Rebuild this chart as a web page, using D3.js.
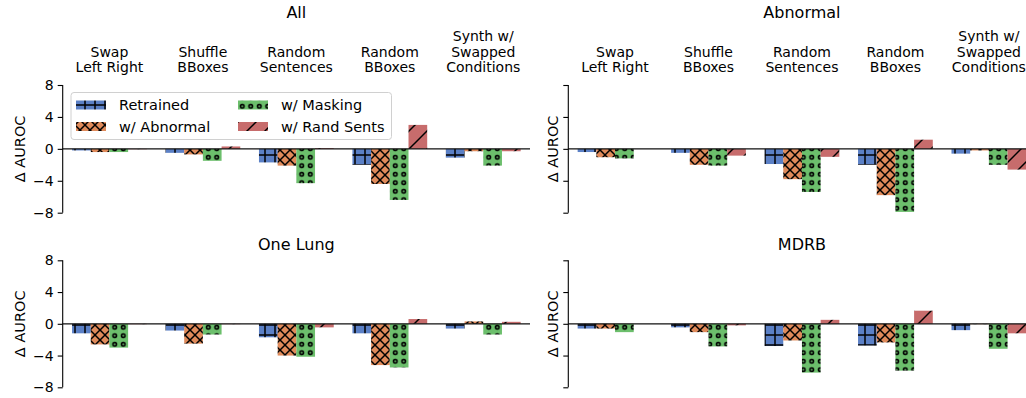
<!DOCTYPE html>
<html>
<head>
<meta charset="utf-8">
<script src="https://cdn.jsdelivr.net/npm/d3@7"></script>
<style>
  body { margin: 0; background: #fff; }
  text { font-family: "DejaVu Sans", sans-serif; fill: #000; }
</style>
</head>
<body>
<div id="chart"></div>
<script>
// ---- data ----
const categories = ["Swap\nLeft Right", "Shuffle\nBBoxes", "Random\nSentences", "Random\nBBoxes", "Synth w/\nSwapped\nConditions"];
const seriesNames = ["Retrained", "w/ Abnormal", "w/ Masking", "w/ Rand Sents"];
const panelTitles = ["All", "Abnormal", "One Lung", "MDRB"];
const yTicks = [-8, -4, 0, 4, 8];

// values per panel, one array per series (in categories order)
const allRetrained  = [-0.2, -0.5, -1.7, -2.0, -1.1];
const allAbnormal   = [-0.4, -0.7, -2.1, -4.4, -0.3];
const allMasking    = [-0.4, -1.5, -4.3, -6.4, -2.1];
const allRandSents  = [-0.05, 0.3, 0.1, 3.0, -0.3];

const abnRetrained  = [-0.4, -0.5, -1.9, -2.0, -0.6];
const abnAbnormal   = [-1.05, -2.0, -3.8, -5.8, -0.2];
const abnMasking    = [-1.2, -2.1, -5.4, -7.9, -2.0];
const abnRandSents  = [0.0, -0.85, -1.0, 1.15, -2.6];

const lungRetrained = [-1.2, -0.85, -1.7, -1.2, -0.6];
const lungAbnormal  = [-2.6, -2.5, -4.0, -5.2, 0.3];
const lungMasking   = [-3.0, -1.35, -4.15, -5.5, -1.35];
const lungRandSents = [-0.05, -0.05, -0.45, 0.6, 0.25];

const mdrbRetrained = [-0.6, -0.45, -2.8, -2.75, -0.8];
const mdrbAbnormal  = [-0.6, -1.05, -2.1, -2.35, -0.05];
const mdrbMasking   = [-1.05, -2.85, -6.15, -5.9, -3.15];
const mdrbRandSents = [0.0, -0.2, 0.5, 1.65, -1.2];

const panelValues = [
  [allRetrained, allAbnormal, allMasking, allRandSents],
  [abnRetrained, abnAbnormal, abnMasking, abnRandSents],
  [lungRetrained, lungAbnormal, lungMasking, lungRandSents],
  [mdrbRetrained, mdrbAbnormal, mdrbMasking, mdrbRandSents]
];

const colors = ["#5b80c6", "#df8a5a", "#6cbf6c", "#c76c6c"];

// ---- layout ----
const width = 1026, height = 398;
const panelW = 467.3;
const panels = [
  { x0: 62.7,  yTop: 85,    yBot: 212.7, labels: true,  cats: true },
  { x0: 568.3, yTop: 85,    yBot: 212.7, labels: false, cats: true },
  { x0: 62.7,  yTop: 260.3, yBot: 387.3, labels: true,  cats: false },
  { x0: 568.3, yTop: 260.3, yBot: 387.3, labels: false, cats: false }
];

const svg = d3.select("#chart").append("svg")
  .attr("width", width)
  .attr("height", height);

// hatch patterns
const defs = svg.append("defs");

function makePattern(id, size, color, draw) {
  const p = defs.append("pattern")
    .attr("id", id)
    .attr("patternUnits", "userSpaceOnUse")
    .attr("width", size)
    .attr("height", size);
  p.append("rect").attr("width", size).attr("height", size).attr("fill", color);
  draw(p, size);
}

function line(p, x1, y1, x2, y2) {
  p.append("line").attr("x1", x1).attr("y1", y1).attr("x2", x2).attr("y2", y2)
    .attr("stroke", "#000").attr("stroke-width", 1.5);
}

makePattern("h0", 10, colors[0], (p, s) => {
  line(p, 0, s / 2, s, s / 2);
  line(p, s / 2, 0, s / 2, s);
});
makePattern("h1", 10, colors[1], (p, s) => {
  line(p, 0, 0, s, s);
  line(p, 0, s, s, 0);
  line(p, -1, 1, 1, -1); line(p, s - 1, s + 1, s + 1, s - 1);
  line(p, -1, s - 1, 1, s + 1); line(p, s - 1, -1, s + 1, 1);
});
makePattern("h2", 8.5, colors[2], (p, s) => {
  p.append("circle").attr("cx", s / 2).attr("cy", s / 2).attr("r", 1.8)
    .attr("fill", "none").attr("stroke", "#000").attr("stroke-width", 1.6);
});
makePattern("h3", 18, colors[3], (p, s) => {
  line(p, 0, s, s, 0);
  line(p, -2, 2, 2, -2);
  line(p, s - 2, s + 2, s + 2, s - 2);
});

const fills = ["url(#h0)", "url(#h1)", "url(#h2)", "url(#h3)"];

panels.forEach((pn, pi) => {
  const g = svg.append("g");
  const x = d3.scaleLinear().domain([-0.5, 4.5]).range([pn.x0, pn.x0 + panelW]);
  const y = d3.scaleLinear().domain([-8, 8]).range([pn.yBot, pn.yTop]);
  const bw = x(0.2) - x(0);

  // bars
  panelValues[pi].forEach((vals, si) => {
    g.append("g").selectAll("rect")
      .data(vals)
      .join("rect")
      .attr("x", (d, i) => x(i - 0.4 + si * 0.2))
      .attr("width", bw)
      .attr("y", d => y(Math.max(0, d)))
      .attr("height", d => Math.abs(y(d) - y(0)))
      .attr("fill", fills[si]);
  });

  // zero line
  g.append("line")
    .attr("x1", pn.x0).attr("x2", pn.x0 + panelW)
    .attr("y1", y(0)).attr("y2", y(0))
    .attr("stroke", "#111").attr("stroke-width", 1.3);

  // y axis
  const axis = d3.axisLeft(y).tickValues(yTicks).tickSize(5).tickPadding(4)
    .tickFormat(pn.labels ? (d => d < 0 ? "\u2212" + Math.abs(d) : String(d)) : "");
  const ag = g.append("g").attr("transform", `translate(${pn.x0},0)`).call(axis);
  ag.select(".domain").attr("stroke", "#000").attr("stroke-width", 1.1)
    .attr("d", `M0,${pn.yTop}V${pn.yBot}`);
  ag.selectAll(".tick line").attr("stroke", "#000").attr("stroke-width", 1.1);
  ag.selectAll(".tick text").style("font-family", "DejaVu Sans, sans-serif")
    .style("font-size", "14px").attr("fill", "#000");

  // y label
  g.append("text")
    .attr("transform", `translate(${pn.x0 - (pn.labels ? 43 : 15)},${(pn.yTop + pn.yBot) / 2}) rotate(-90)`)
    .attr("text-anchor", "middle")
    .attr("dy", "0.35em")
    .style("font-size", "14.5px")
    .text("\u0394 AUROC");

  // title
  g.append("text")
    .attr("x", pn.x0 + panelW / 2)
    .attr("y", pn.cats ? 18 : pn.yTop - 10)
    .attr("text-anchor", "middle")
    .style("font-size", "16px")
    .text(panelTitles[pi]);

  // category labels above top panels
  if (pn.cats) {
    categories.forEach((c, i) => {
      const lines = c.split("\n");
      lines.forEach((ln, j) => {
        g.append("text")
          .attr("x", x(i))
          .attr("y", 72 - (lines.length - 1 - j) * 15.5)
          .attr("text-anchor", "middle")
          .style("font-size", "14px")
          .text(ln);
      });
    });
  }
});

// legend in first panel
const lg = svg.append("g");
lg.append("rect")
  .attr("x", 71).attr("y", 92.5).attr("width", 320.5).attr("height", 47)
  .attr("rx", 3).attr("fill", "#fff").attr("fill-opacity", 0.85)
  .attr("stroke", "#d0d0d0").attr("stroke-width", 1);
seriesNames.forEach((name, i) => {
  const col = Math.floor(i / 2), row = i % 2;
  const hx = col === 0 ? 76 : 238;
  const cy = row === 0 ? 105 : 126.5;
  lg.append("rect")
    .attr("x", hx).attr("y", cy - 4.5).attr("width", 30).attr("height", 9)
    .attr("fill", fills[i]);
  lg.append("text")
    .attr("x", hx + 43).attr("y", cy)
    .attr("dy", "0.35em")
    .style("font-size", "14.5px")
    .text(name);
});
</script>
</body>
</html>
